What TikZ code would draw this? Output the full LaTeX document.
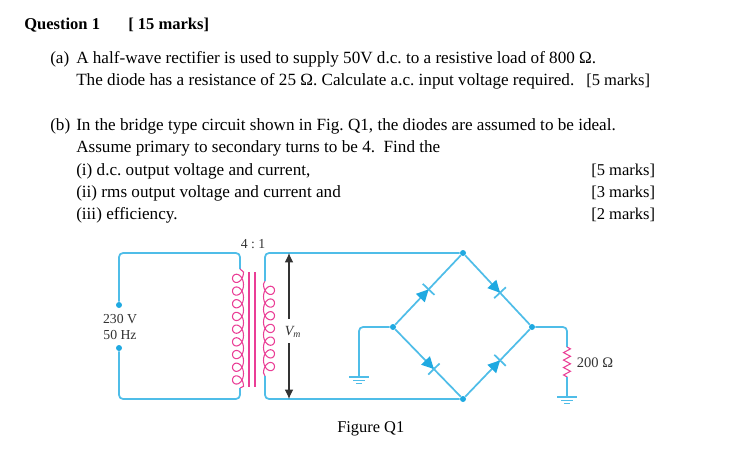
\documentclass[tikz,border=0pt]{standalone}
\usepackage{fontspec}
\setmainfont{Liberation Serif}
\usetikzlibrary{arrows.meta,decorations.pathmorphing,decorations.markings}

\definecolor{wirecol}{HTML}{4FBDE8}
\definecolor{dotcol}{HTML}{1FA9E1}
\definecolor{coilcol}{HTML}{EA3E96}
\definecolor{labelcol}{HTML}{333333}

\frenchspacing
\tikzset{
  line/.style={anchor=base west,inner sep=0pt,font=\fontsize{12.85}{14}\selectfont},
  marks/.style={line,font=\fontsize{12.4}{14}\selectfont},
  cktlabel/.style={inner sep=0pt,text=labelcol,font=\fontsize{10.3}{12.5}\selectfont},
  wire/.style={wirecol,line width=1.3pt,rounded corners=3pt},
  junction/.style={circle,fill=dotcol,inner sep=0pt,minimum size=4.5pt},
  corebar/.style={coilcol,line width=0.8pt},
  coilline/.style={coilcol,line width=0.8pt,smooth},
  resistor/.style={coilcol,line width=0.8pt,decorate,
    decoration={zigzag,segment length=5.6pt,amplitude=2.6pt}},
  dimline/.style={labelcol,line width=0.8pt,-{Latex[length=7pt,width=6.5pt]}},
  % diode glyph, set on the wire at the given position
  diode/.style={postaction={decorate,decoration={markings,mark=at position #1 with {
    \fill[dotcol,sharp corners] (-9pt,-4.6pt) -- (0pt,0pt) -- (-9pt,4.6pt) -- cycle;
    \draw[wirecol,line width=1.3pt] (0pt,-6pt) -- (0pt,6pt);
  }}}},
  earth/.pic={
    \draw[wirecol,line width=0.9pt] (-7.5pt,0) -- (7.5pt,0);
    \draw[wirecol,line width=0.9pt] (-4.5pt,-2.4pt) -- (4.5pt,-2.4pt);
    \draw[wirecol,line width=0.9pt] (-2pt,-4.8pt) -- (2pt,-4.8pt);
  }
}

\begin{document}
\begin{tikzpicture}[x=0.75pt,y=-0.75pt]
  \useasboundingbox (0,0) rectangle (732,461);

  % question text
  \node[line,font=\fontsize{12.4}{14}\selectfont\bfseries] (qhead) at (24,29) {Question 1};
  \node[line,font=\fontsize{12.4}{14}\selectfont\bfseries] (qtotal) at (128,29) {[ 15 marks]};
  \node[line] (atag) at (50,63) {(a)};
  \node[line] (aone) at (76,63) {A half-wave rectifier is used to supply 50V d.c. to a resistive load of 800 Ω.};
  \node[line] (atwo) at (76,85) {The diode has a resistance of 25 Ω. Calculate a.c. input voltage required.};
  \node[marks] (amark) at (586,85) {[5 marks]};
  \node[line] (btag) at (50,130) {(b)};
  \node[line] (bone) at (76,130) {In the bridge type circuit shown in Fig. Q1, the diodes are assumed to be ideal.};
  \node[line] (btwo) at (76,152) {Assume primary to secondary turns to be 4.\ \ Find the};
  \node[line] (bi) at (76,175) {(i) d.c. output voltage and current,};
  \node[line] (bii) at (76,197) {(ii) rms output voltage and current and};
  \node[line] (biii) at (76,219) {(iii) efficiency.};
  \node[marks] (bmi) at (591,175) {[5 marks]};
  \node[marks] (bmii) at (591,197) {[3 marks]};
  \node[marks] (bmiii) at (591,219) {[2 marks]};

  % points of the circuit
  \node[junction] (srctop) at (119,305) {};
  \node[junction] (srcbot) at (119,348) {};
  \coordinate (ptop) at (240,269);
  \coordinate (pbot) at (240,388);
  \coordinate (stop) at (265,281);
  \coordinate (sbot) at (265,376);
  \node[junction] (top) at (463,253) {};
  \node[junction] (left) at (393,327) {};
  \node[junction] (right) at (532,327) {};
  \node[junction] (bottom) at (463,399) {};
  \coordinate (gndl) at (359,377);
  \coordinate (rtop) at (567,347);
  \coordinate (rbot) at (567,377);
  \coordinate (gndr) at (567,397);

  % primary
  \draw[wire] (srctop) |- (240,253) -- (ptop);
  \draw[wire] (srcbot) |- (240,399) -- (pbot);
  \draw[coilline] (ptop) -- plot[domain=0:3240,samples=217] ({238+5.5*cos(\x)},{272+0.03528*\x+7*sin(\x)}) -- (pbot);
  \draw[corebar] (249,272) -- (249,387);
  \draw[corebar] (255,272) -- (255,387);

  % secondary
  \draw[coilline] (stop) -- plot[domain=0:2520,samples=169] ({269-5.5*cos(\x)},{284+0.03528*\x+7*sin(\x)}) -- (sbot);
  \draw[wire] (stop) |- (top);
  \draw[wire] (sbot) |- (bottom);

  % bridge
  \draw[wire,diode=0.51] (left) -- (top);
  \draw[wire,diode=0.54] (top) -- (right);
  \draw[wire,diode=0.59] (left) -- (bottom);
  \draw[wire,diode=0.54] (bottom) -- (right);

  % load and ground
  \draw[wire] (left) -| (gndl);
  \draw[wire] (right) -| (rtop);
  \draw[resistor] (rtop) -- (rbot);
  \draw[wire] (rbot) -- (gndr);
  \pic at (gndl) {earth};
  \pic at (gndr) {earth};

  % labels
  \node[cktlabel,align=center] (source) at (120,327) {230 V\\50 Hz};
  \node[cktlabel] (ratio) at (253,244) {4 : 1};
  \node[cktlabel,font=\fontsize{10.9}{12.5}\selectfont] (loadval) at (595,363) {200 Ω};
  \node[line,font=\fontsize{12.3}{14}\selectfont] (figcap) at (337,432) {Figure Q1};
  \node[cktlabel,font=\fontsize{10.5}{12.5}\selectfont\itshape] (vm) at (293,332) {V\textsubscript{m}};
  \draw[dimline] (289,319) -- (289,253);
  \draw[dimline] (289,343) -- (289,399);
\end{tikzpicture}
\end{document}
